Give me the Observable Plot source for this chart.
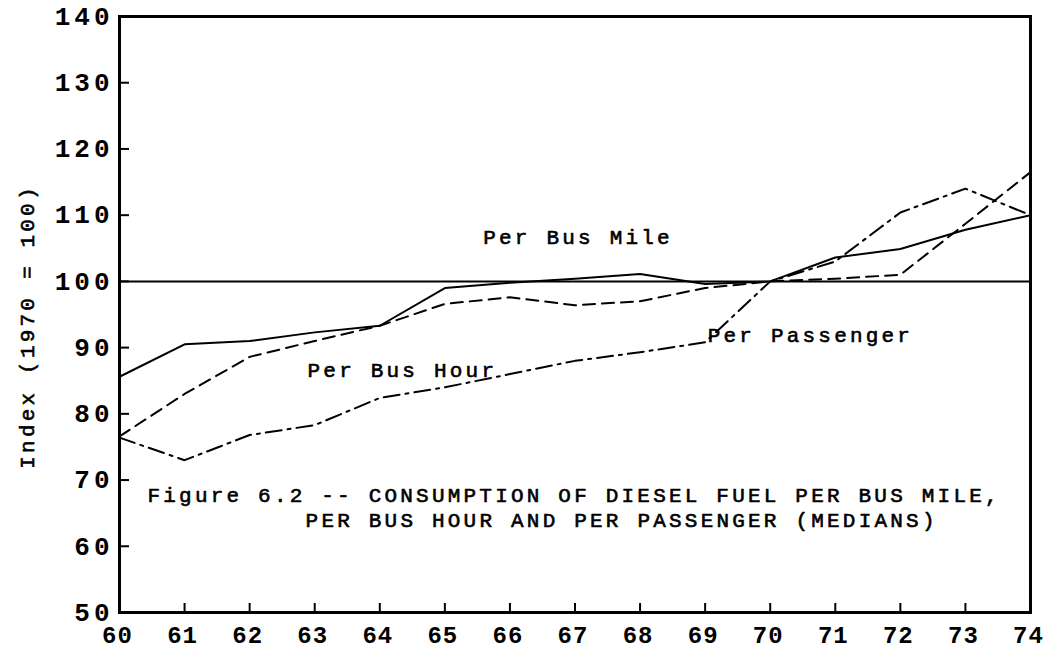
<!DOCTYPE html>
<html>
<head>
<meta charset="utf-8">
<script src="https://cdn.jsdelivr.net/npm/d3@7"></script>
<script src="https://cdn.jsdelivr.net/npm/@observablehq/plot@0.6"></script>
<style>
  body { margin: 0; background: #fff; }
  #chart svg text { letter-spacing: 3.2px; }
  #chart svg g[aria-label="y-axis tick label"] text { letter-spacing: 4px; }
  #chart svg g[aria-label="x-axis tick label"] text { letter-spacing: 1px; }
</style>
</head>
<body>
<div id="chart"></div>
<script>
// ---- data ----
const years = [60, 61, 62, 63, 64, 65, 66, 67, 68, 69, 70, 71, 72, 73, 74];
const perBusMile   = [85.6, 90.5, 91.0, 92.3, 93.3, 99.0, 99.8, 100.4, 101.1, 99.6, 100, 103.6, 104.9, 107.8, 110.0];
const perBusHour   = [76.6, 83.0, 88.6, 91.0, 93.3, 96.6, 97.6, 96.4, 97.0, 99.0, 100, 100.4, 101.0, 108.7, 116.5];
const perPassenger = [76.4, 73.0, 76.8, 78.3, 82.4, 84.0, 86.0, 88.0, 89.3, 90.8, 100, 103.0, 110.4, 114.0, 110.0];
const baseIndex = [100];
const xTicks = [60, 61, 62, 63, 64, 65, 66, 67, 68, 69, 70, 71, 72, 73, 74];
const yTicks = [50, 60, 70, 80, 90, 100, 110, 120, 130, 140];
const yLabel = "Index (1970 = 100)";
// annotation texts anchored at data positions
const labelTexts = ["Per Bus Mile", "Per Bus Hour", "Per Passenger",
  "Figure 6.2 -- CONSUMPTION OF DIESEL FUEL PER BUS MILE,",
  "PER BUS HOUR AND PER PASSENGER (MEDIANS)"];
const labelX = [65.59, 62.89, 69.04, 60.43, 62.86];
const labelY = [105.6, 85.5, 90.8, 66.7, 62.95];

// ---- build tables ----
const rows = s => years.map((yr, i) => ({year: yr, value: s[i]}));
const labels = labelTexts.map((t, i) => ({text: t, x: labelX[i], y: labelY[i]}));

const W = 1045, H = 650, mL = 119, mR = 15, mT = 16, mB = 38;
const font = "'Liberation Mono', 'Courier New', monospace";

const chart = Plot.plot({
  width: W, height: H,
  marginLeft: mL, marginRight: mR, marginTop: mT, marginBottom: mB,
  style: {fontFamily: font, background: "#fff", color: "#000"},
  x: {domain: [60, 74]},
  y: {domain: [50, 140]},
  marks: [
    Plot.ruleY(baseIndex, {stroke: "#000", strokeWidth: 2}),
    Plot.ruleY(yTicks, {stroke: "#000", strokeWidth: 2, insetRight: (W - mL - mR) - 10}),
    Plot.ruleX(xTicks, {stroke: "#000", strokeWidth: 2, insetTop: (H - mT - mB) - 9}),
    Plot.line(rows(perBusMile), {x: "year", y: "value", stroke: "#000", strokeWidth: 2}),
    Plot.line(rows(perBusHour), {x: "year", y: "value", stroke: "#000", strokeWidth: 2, strokeDasharray: "12,7"}),
    Plot.line(rows(perPassenger), {x: "year", y: "value", stroke: "#000", strokeWidth: 2, strokeDasharray: "16,6,3,6"}),
    Plot.frame({stroke: "#000", strokeWidth: 3}),
    Plot.axisY(yTicks, {tickSize: 0, tickPadding: 6, fontSize: 26, fontWeight: "bold", label: null}),
    Plot.axisX(xTicks, {tickSize: 0, tickPadding: 13, dx: -2, fontSize: 24, fontWeight: "bold", label: null}),
    Plot.text(labels, {x: "x", y: "y", text: "text", textAnchor: "start", lineAnchor: "bottom",
      fontSize: 21, fill: "#000", stroke: "#000", strokeWidth: 0.6}),
    Plot.text([yLabel], {frameAnchor: "left", rotate: -90, dx: -86, dy: 12, textAnchor: "middle",
      lineAnchor: "bottom", fontSize: 21, fill: "#000", stroke: "#000", strokeWidth: 0.6})
  ]
});
document.getElementById("chart").appendChild(chart);
</script>
</body>
</html>
